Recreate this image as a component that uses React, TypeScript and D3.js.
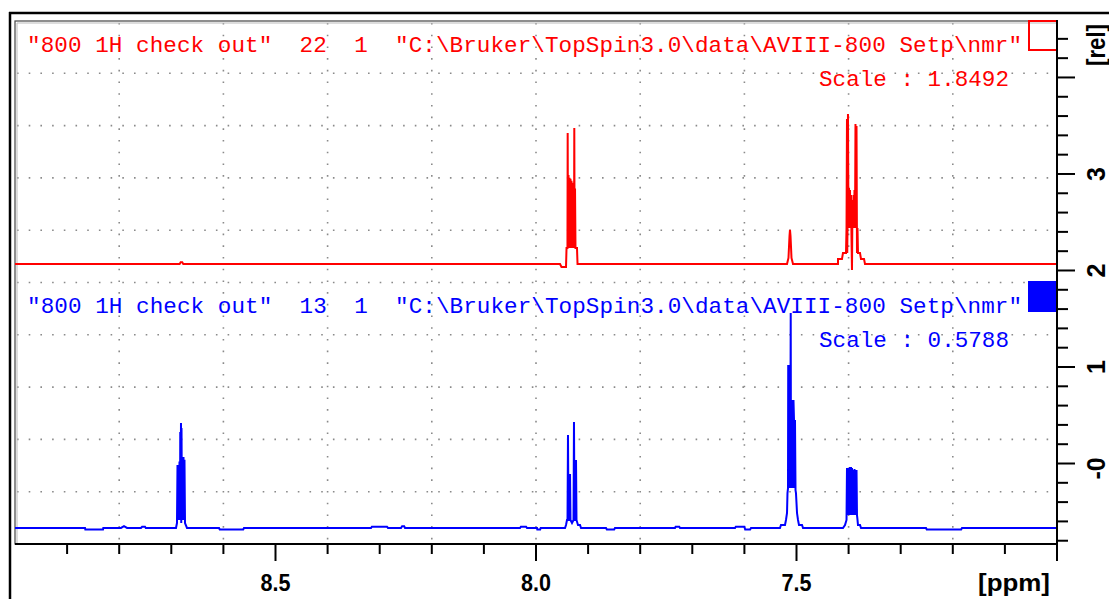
import React, { useEffect, useRef } from 'react';
import * as d3 from 'd3';

// spectrum traces, [ppm, rel]
const redTrace: [number, number][] = [
  [9.0, 2.067],
  [8.684, 2.067], [8.682, 2.085], [8.679, 2.085], [8.677, 2.067],
  [7.9539, 2.067], [7.9511, 2.036], [7.9424, 2.036], [7.9414, 2.233], [7.9396, 2.233],
  [7.9392, 3.425], [7.9386, 2.233], [7.9376, 2.990], [7.9367, 2.233], [7.9357, 2.96],
  [7.9347, 2.233], [7.9338, 2.95], [7.9328, 2.233], [7.9319, 2.93], [7.9309, 2.233],
  [7.9299, 2.91], [7.9290, 2.233], [7.9280, 2.907], [7.9271, 2.233], [7.9265, 3.477],
  [7.9259, 2.233], [7.9251, 2.85], [7.9242, 2.233], [7.9213, 2.233], [7.9203, 2.067],
  [7.5182, 2.067], [7.5154, 2.130], [7.5134, 2.360], [7.5125, 2.420], [7.5115, 2.360],
  [7.5096, 2.130], [7.5067, 2.067],
  [7.4261, 2.067], [7.4204, 2.067], [7.4203, 2.119], [7.4127, 2.119], [7.4108, 2.181],
  [7.4050, 2.181], [7.4040, 2.440], [7.4031, 3.570], [7.4026, 2.181], [7.4021, 2.440],
  [7.4012, 3.622], [7.4002, 2.440], [7.3992, 2.855], [7.3983, 2.440], [7.3973, 2.834],
  [7.3964, 2.440], [7.3954, 2.782], [7.3944, 2.316], [7.3935, 2.005], [7.3925, 2.731],
  [7.3916, 2.440], [7.3906, 2.782], [7.3896, 2.440], [7.3887, 2.834], [7.3877, 2.440],
  [7.3868, 3.518], [7.3858, 2.440], [7.3848, 3.497], [7.3839, 2.181], [7.3829, 2.440],
  [7.3820, 2.181], [7.3781, 2.181], [7.3762, 2.119], [7.3704, 2.119], [7.3685, 2.067],
  [7.0, 2.067],
];

const blueTrace: [number, number][] = [
  [9.0, -0.668],
  [8.8656, -0.668], [8.8650, -0.684], [8.8311, -0.684], [8.8305, -0.668],
  [8.7965, -0.668], [8.7908, -0.650], [8.7850, -0.668],
  [8.7582, -0.668], [8.7560, -0.655], [8.7505, -0.655], [8.7490, -0.668],
  [8.6910, -0.668], [8.6891, -0.617], [8.6881, -0.016], [8.6871, -0.585], [8.6862, -0.016],
  [8.6852, -0.585], [8.6843, 0.020], [8.6833, -0.585], [8.6828, 0.326], [8.6823, -0.585],
  [8.6814, 0.420], [8.6809, -0.617], [8.6804, 0.368], [8.6795, -0.585], [8.6785, 0.067],
  [8.6775, -0.585], [8.6766, 0.067], [8.6756, -0.585], [8.6747, 0.040], [8.6737, -0.617],
  [8.6699, -0.668],
  [8.6084, -0.668], [8.6070, -0.684], [8.5620, -0.684], [8.5605, -0.668],
  [8.3167, -0.668], [8.3150, -0.655], [8.2860, -0.655], [8.2841, -0.668],
  [8.2591, -0.668], [8.2570, -0.650], [8.2530, -0.650], [8.2514, -0.668],
  [8.0307, -0.668], [8.0290, -0.655], [8.0190, -0.655], [8.0173, -0.668],
  [7.9981, -0.668], [7.9975, -0.684], [7.9920, -0.684], [7.9910, -0.668],
  [7.9443, -0.668], [7.9424, -0.637], [7.9405, -0.585], [7.9395, -0.585], [7.9386, 0.295],
  [7.9376, -0.585], [7.9352, -0.585], [7.9347, -0.109], [7.9338, -0.585], [7.9309, -0.617],
  [7.9280, -0.585], [7.9271, 0.430], [7.9261, -0.585], [7.9242, -0.585], [7.9232, 0.036],
  [7.9223, -0.585], [7.9194, -0.637], [7.9155, -0.637], [7.9136, -0.668],
  [7.8656, -0.668], [7.8640, -0.684], [7.8500, -0.684], [7.8484, -0.668],
  [7.7332, -0.668], [7.7320, -0.655], [7.7250, -0.655], [7.7236, -0.668],
  [7.6180, -0.668], [7.6165, -0.655], [7.6000, -0.655], [7.5985, -0.684], [7.5890, -0.684], [7.5873, -0.668],
  [7.5317, -0.668], [7.5298, -0.637], [7.5221, -0.637], [7.5202, -0.585], [7.5182, -0.513],
  [7.5173, -0.306], [7.5163, -0.254], [7.5159, 1.021], [7.5154, -0.254], [7.5149, 1.021],
  [7.5144, -0.254], [7.5139, 1.021], [7.5134, -0.254], [7.5125, 1.021], [7.5120, -0.254],
  [7.5111, 1.560], [7.5106, -0.254], [7.5101, 0.658], [7.5096, -0.254], [7.5091, 0.658],
  [7.5086, -0.254], [7.5082, 0.658], [7.5077, -0.254], [7.5072, 0.658], [7.5067, -0.254],
  [7.5058, 0.658], [7.5048, 0.451], [7.5043, -0.254], [7.5038, 0.451], [7.5034, -0.254],
  [7.5029, 0.451], [7.5019, -0.275], [7.5010, -0.306], [7.4990, -0.513], [7.4971, -0.585],
  [7.4952, -0.637], [7.4894, -0.637], [7.4875, -0.668],
  [7.4108, -0.668], [7.4069, -0.637], [7.4040, -0.585], [7.4031, -0.047], [7.4021, -0.534],
  [7.4012, -0.047], [7.4002, -0.534], [7.3992, -0.057], [7.3983, -0.347], [7.3973, -0.036],
  [7.3964, -0.534], [7.3954, -0.036], [7.3944, -0.534], [7.3935, -0.047], [7.3925, -0.534],
  [7.3916, -0.347], [7.3906, -0.067], [7.3896, -0.534], [7.3887, -0.057], [7.3877, -0.534],
  [7.3868, -0.067], [7.3858, -0.534], [7.3848, -0.067], [7.3839, -0.534], [7.3829, -0.585],
  [7.3820, -0.637], [7.3781, -0.637], [7.3762, -0.668],
  [7.2514, -0.668], [7.2500, -0.684], [7.1840, -0.684], [7.1823, -0.668],
  [7.0, -0.668],
];

const redTitle = '"800 1H check out"  22  1  "C:\\Bruker\\TopSpin3.0\\data\\AVIII-800 Setp\\nmr"';
const blueTitle = '"800 1H check out"  13  1  "C:\\Bruker\\TopSpin3.0\\data\\AVIII-800 Setp\\nmr"';
const redScale = 'Scale : 1.8492';
const blueScale = 'Scale : 0.5788';

const ppmLabelValues = [8.5, 8.0, 7.5];
const ppmLabels = ['8.5', '8.0', '7.5'];
const relLabelValues = [0, 1, 2, 3];
const relLabels = ['-0', '1', '2', '3'];

const App = () => {
  const svgRef = useRef<SVGSVGElement>(null);

  useEffect(() => {
    const width = 1109;
    const height = 599;
    const left = 15, right = 1057, top = 21, bottom = 544;
    const mono = '"Courier New", "Liberation Mono", monospace';
    const sans = '"Liberation Sans", Arial, sans-serif';

    const svg = d3.select(svgRef.current)
      .attr('width', width)
      .attr('height', height);
    svg.selectAll('*').remove();

    svg.append('rect').attr('width', width).attr('height', height).attr('fill', '#fff');

    const x = d3.scaleLinear().domain([9, 7]).range([left, right]);
    const y = d3.scaleLinear().domain([-0.834, 4.585]).range([bottom, top]);

    // outer window frame
    svg.append('line').attr('x1', 9).attr('x2', width).attr('y1', 13).attr('y2', 13)
      .attr('stroke', '#000').attr('stroke-width', 2.5);
    svg.append('line').attr('x1', 10).attr('x2', 10).attr('y1', 12).attr('y2', height)
      .attr('stroke', '#000').attr('stroke-width', 2.5);

    // dotted grid (10 x 10 divisions)
    const grid = svg.append('g')
      .attr('stroke', '#8a8a8a')
      .attr('stroke-width', 1.6)
      .attr('stroke-dasharray', '1.6 10.1');
    x.ticks(10).filter(v => v < 8.99 && v > 7.01).forEach(v => {
      grid.append('line').attr('x1', x(v)).attr('x2', x(v)).attr('y1', top + 2).attr('y2', bottom);
    });
    d3.range(1, 10).forEach(k => {
      const gy = top + (k * (bottom - top)) / 10;
      grid.append('line').attr('x1', left + 2).attr('x2', right).attr('y1', gy).attr('y2', gy);
    });

    // plot frame
    svg.append('rect').attr('x', left).attr('y', top).attr('width', right - left).attr('height', bottom - top)
      .attr('fill', 'none').attr('stroke', '#444').attr('stroke-width', 1.2);
    svg.append('line').attr('x1', left + 2).attr('x2', left + 2).attr('y1', top + 2).attr('y2', bottom)
      .attr('stroke', '#bbb').attr('stroke-width', 1);
    svg.append('line').attr('x1', left + 2).attr('x2', right).attr('y1', top + 2).attr('y2', top + 2)
      .attr('stroke', '#bbb').attr('stroke-width', 1);

    // spectra
    const line = d3.line<[number, number]>().x(d => x(d[0])).y(d => y(d[1]));
    svg.append('path').attr('d', line(redTrace)).attr('fill', 'none')
      .attr('stroke', '#ff0000').attr('stroke-width', 2).attr('stroke-linejoin', 'miter');
    svg.append('path').attr('d', line(blueTrace)).attr('fill', 'none')
      .attr('stroke', '#0000ff').attr('stroke-width', 2).attr('stroke-linejoin', 'miter');

    // titles
    const addText = (txt: string, tx: number, ty: number, color: string, len: number) => {
      svg.append('text').attr('x', tx).attr('y', ty)
        .attr('font-family', mono).attr('font-size', 22.6)
        .attr('fill', color)
        .attr('textLength', len).attr('lengthAdjust', 'spacing')
        .style('white-space', 'pre')
        .text(txt);
    };
    addText(redTitle, 27, 52, '#ff0000', 995);
    addText(redScale, 819, 86, '#ff0000', 190);
    addText(blueTitle, 27, 313, '#0000ff', 995);
    addText(blueScale, 819, 347, '#0000ff', 190);

    // legend boxes
    svg.append('rect').attr('x', 1029).attr('y', top).attr('width', 28).attr('height', 29)
      .attr('fill', 'none').attr('stroke', '#ff0000').attr('stroke-width', 2);
    svg.append('rect').attr('x', 1028).attr('y', 281).attr('width', 29).attr('height', 31)
      .attr('fill', '#0000ff');

    // bottom axis
    svg.append('line').attr('x1', left).attr('x2', right + 1).attr('y1', bottom).attr('y2', bottom)
      .attr('stroke', '#000').attr('stroke-width', 2);
    const xt = svg.append('g').attr('stroke', '#000').attr('stroke-width', 2);
    x.ticks(20).filter(v => v < 8.99).forEach(v => {
      const major = ppmLabelValues.some(p => Math.abs(p - v) < 1e-6) || Math.abs(v - 7) < 1e-6;
      xt.append('line').attr('x1', x(v)).attr('x2', x(v))
        .attr('y1', bottom).attr('y2', bottom + (major ? 17 : 10));
    });
    ppmLabelValues.forEach((v, i) => {
      svg.append('text').attr('x', x(v) - 15).attr('y', 591)
        .attr('font-family', sans).attr('font-weight', 'bold').attr('font-size', 24)
        .attr('textLength', 30).attr('lengthAdjust', 'spacingAndGlyphs')
        .text(ppmLabels[i]);
    });
    svg.append('text').attr('x', 978).attr('y', 591)
      .attr('font-family', sans).attr('font-weight', 'bold').attr('font-size', 24)
      .attr('textLength', 72).attr('lengthAdjust', 'spacingAndGlyphs')
      .text('[ppm]');

    // right axis
    svg.append('line').attr('x1', right).attr('x2', right).attr('y1', top - 1).attr('y2', bottom + 17)
      .attr('stroke', '#000').attr('stroke-width', 2);
    const yt = svg.append('g').attr('stroke', '#000').attr('stroke-width', 2);
    y.ticks(27).forEach(v => {
      const major = Math.abs(v - Math.round(v)) < 1e-6;
      yt.append('line').attr('x1', right).attr('x2', right + (major ? 18 : 11))
        .attr('y1', y(v)).attr('y2', y(v));
    });
    relLabelValues.forEach((v, i) => {
      const lab = relLabels[i];
      const cy = lab === '-0' ? y(v) + 5 : y(v);
      svg.append('text')
        .attr('transform', `translate(1096,${cy}) rotate(-90)`)
        .attr('text-anchor', 'middle').attr('dominant-baseline', 'central')
        .attr('font-family', sans).attr('font-weight', 'bold').attr('font-size', 25)
        .text(lab);
    });
    svg.append('text')
      .attr('transform', 'translate(1096,24) rotate(-90)')
      .attr('text-anchor', 'end').attr('dominant-baseline', 'central')
      .attr('font-family', sans).attr('font-weight', 'bold').attr('font-size', 25)
      .attr('textLength', 42).attr('lengthAdjust', 'spacingAndGlyphs')
      .text('[rel]');
  }, []);

  return <svg ref={svgRef} style={{ position: 'absolute', left: 0, top: 0, display: 'block' }} />;
};

export default App;
